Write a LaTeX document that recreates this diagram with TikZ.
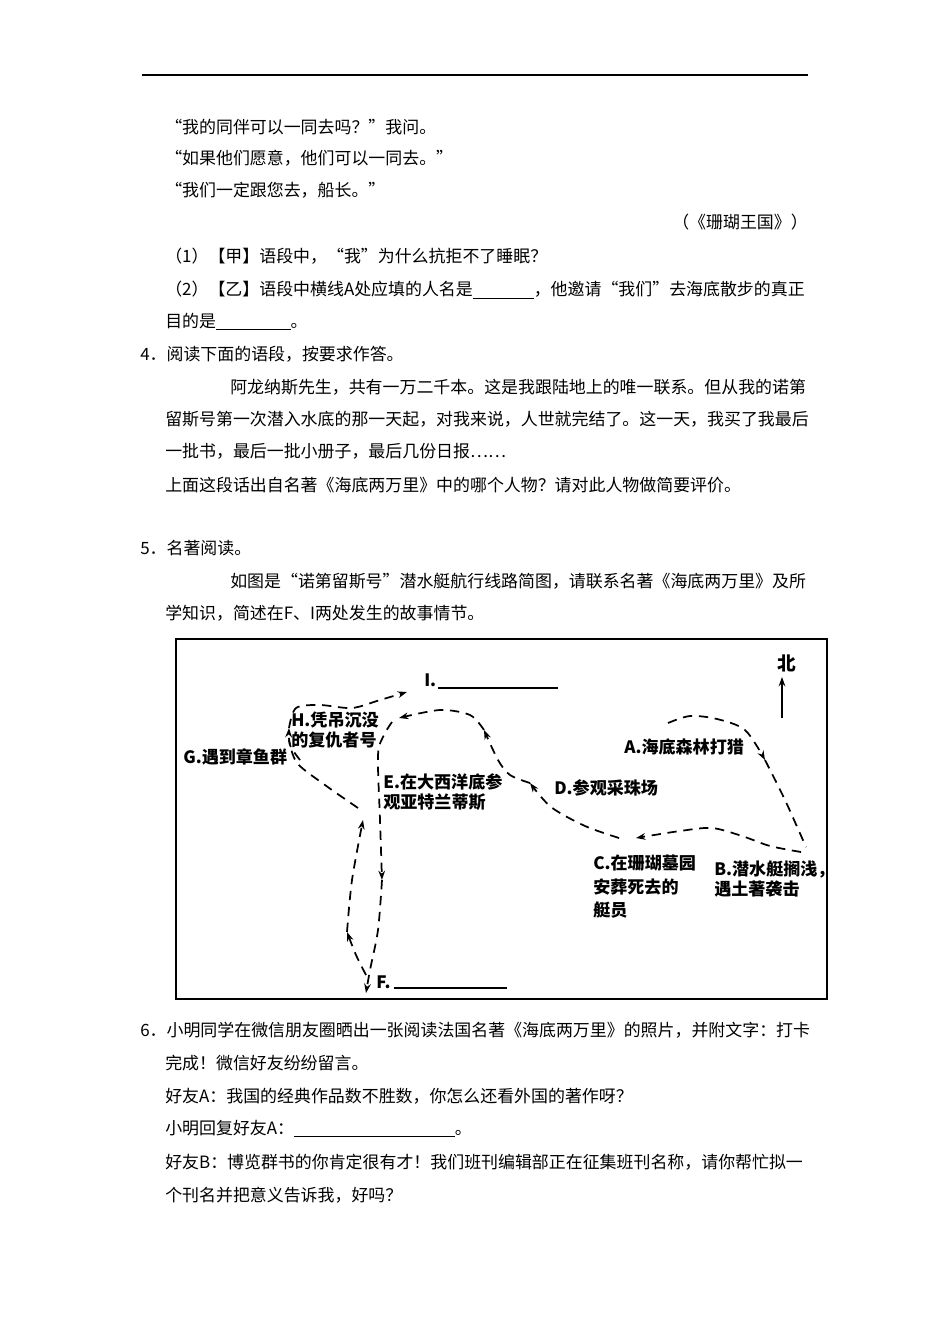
\documentclass[tikz,border=0pt]{standalone}
\usepackage{fontspec}
\setmainfont{Noto Sans CJK SC}
\usetikzlibrary{arrows.meta}
\begin{document}
\begin{tikzpicture}[x=0.75pt,y=-0.75pt,
  body/.style={anchor=west,inner sep=0,font=\fontsize{12.7}{14}\selectfont},
  lab/.style={anchor=west,inner sep=0,align=left,font=\fontsize{12.8}{15.5}\selectfont\bfseries},
  route/.style={line width=1.3pt,dash pattern=on 7pt off 5pt,-{Stealth[length=7pt,width=5pt]}},
  plain/.style={line width=1.3pt,dash pattern=on 7pt off 5pt}]
\useasboundingbox (0,0) rectangle (950,1344);
\draw[line width=0.8pt] (142,75) -- (808,75);
\node[body] (t1) at (165,127) {“我的同伴可以一同去吗？”我问。};
\node[body] (t2) at (165,158) {“如果他们愿意，他们可以一同去。”};
\node[body] (t3) at (165,190) {“我们一定跟您去，船长。”};
\node[body,anchor=east] (t4) at (808,222) {（《珊瑚王国》）};
\node[body] (t5) at (165,256) {（1）【甲】语段中，“我”为什么抗拒不了睡眠？};
\node[body] (t6) at (165,290) {（2）【乙】语段中横线A处应填的人名是\underline{\hspace{3.6em}}，他邀请“我们”去海底散步的真正};
\node[body] (t7) at (165,322) {目的是\underline{\hspace{4.4em}}。};
\node[body] (t8) at (140,354) {4．阅读下面的语段，按要求作答。};
\node[body] (t9) at (230,387) {阿龙纳斯先生，共有一万二千本。这是我跟陆地上的唯一联系。但从我的诺第};
\node[body] (t10) at (165,419) {留斯号第一次潜入水底的那一天起，对我来说，人世就完结了。这一天，我买了我最后};
\node[body] (t11) at (165,451) {一批书，最后一批小册子，最后几份日报……};
\node[body] (t12) at (165,485) {上面这段话出自名著《海底两万里》中的哪个人物？请对此人物做简要评价。};
\node[body] (t13) at (140,548) {5．名著阅读。};
\node[body] (t14) at (230,581) {如图是“诺第留斯号”潜水艇航行线路简图，请联系名著《海底两万里》及所};
\node[body] (t15) at (165,613) {学知识，简述在F、I两处发生的故事情节。};
% map
\draw[line width=2pt] (176,639) rectangle (827,999);
\node[lab,font=\fontsize{14}{14}\selectfont\bfseries] (north) at (777,663) {北};
\coordinate (nb) at (782,718); \coordinate (nt) at (782,677);
\draw[line width=1.2pt,-{Stealth[length=7pt,width=5pt]}] (nb) -- (nt);
\node[lab] (I) at (424,680) {I.};
\coordinate (i1) at (438,688); \coordinate (i2) at (558,688);
\draw[line width=1pt] (i1) -- (i2);
\node[lab] (H) at (291,730) {H.凭吊沉没\\的复仇者号};
\node[lab] (G) at (183,757) {G.遇到章鱼群};
\node[lab] (E) at (383,792) {E.在大西洋底参\\观亚特兰蒂斯};
\node[lab] (D) at (554,788) {D.参观采珠场};
\node[lab] (A) at (624,747) {A.海底森林打猎};
\node[lab] (B) at (714,879) {B.潜水艇搁浅，\\遇土著袭击};
\node[lab,font=\fontsize{12.8}{17.6}\selectfont\bfseries] (C) at (593,887) {C.在珊瑚墓园\\安葬死去的\\艇员};
\node[lab] (F) at (376,982) {F.};
\coordinate (f1) at (394,988); \coordinate (f2) at (507,988);
\draw[line width=1pt] (f1) -- (f2);
% routes
\draw[route] plot[smooth] coordinates {(668,723) (690,716) (717,719) (745,730) (765,760)};
\draw[plain] plot[smooth] coordinates {(765,760) (785,800) (806,847)};
\draw[route] plot[smooth] coordinates {(801,852) (770,846) (742,836) (712,828) (680,831) (636,838)};
\draw[route] plot[smooth] coordinates {(619,838) (585,826) (551,807) (530,783)};
\draw[route] plot[smooth] coordinates {(530,783) (510,775) (498,760) (484,730)};
\draw[route] plot[smooth] coordinates {(484,730) (470,715) (440,710) (399,718)};
\draw[route] plot[smooth] coordinates {(392,722) (384,735) (378,755) (380,820) (382,880)};
\draw[route] plot[smooth] coordinates {(382,880) (378,930) (370,970) (366,993)};
\draw[route] plot[smooth] coordinates {(366,975) (356,955) (347,932)};
\draw[route] plot[smooth] coordinates {(347,932) (352,880) (363,820)};
\draw[plain] plot[smooth] coordinates {(358,808) (325,785) (297,763) (289,740)};
\draw[route] plot[smooth] coordinates {(300,760) (290,745) (289,728)};
\draw[route] plot[smooth] coordinates {(289,728) (296,708) (320,705) (352,708) (380,700) (407,692)};
% question 6
\node[body] (t16) at (140,1030) {6．小明同学在微信朋友圈晒出一张阅读法国名著《海底两万里》的照片，并附文字：打卡};
\node[body] (t17) at (165,1063) {完成！微信好友纷纷留言。};
\node[body] (t18) at (165,1096) {好友A：我国的经典作品数不胜数，你怎么还看外国的著作呀？};
\node[body] (t19) at (165,1129) {小明回复好友A：\underline{\hspace{9.5em}}。};
\node[body] (t20) at (165,1162) {好友B：博览群书的你肯定很有才！我们班刊编辑部正在征集班刊名称，请你帮忙拟一};
\node[body] (t21) at (165,1195) {个刊名并把意义告诉我，好吗？};
\end{tikzpicture}
\end{document}
